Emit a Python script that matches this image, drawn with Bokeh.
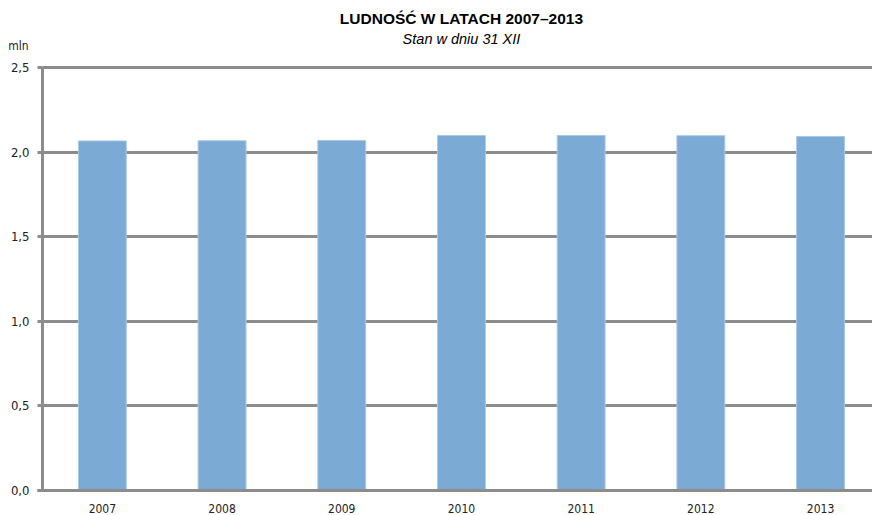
from bokeh.plotting import figure
from bokeh.models import FixedTicker, Label, Range1d
from bokeh.embed import file_html
from bokeh.resources import INLINE

years = ["2007", "2008", "2009", "2010", "2011", "2012", "2013"]
population = [2.066, 2.067, 2.069, 2.098, 2.098, 2.097, 2.092]
y_ticks = [0.0, 0.5, 1.0, 1.5, 2.0, 2.5]
y_tick_labels = ["0,0", "0,5", "1,0", "1,5", "2,0", "2,5"]
title_text = "LUDNOŚĆ W LATACH 2007–2013"
subtitle_text = "Stan w dniu 31 XII"
unit_text = "mln"

xs = list(range(len(years)))

# frame covers the whole canvas; axes are placed with fixed_location
p = figure(width=872, height=515, output_backend="svg", toolbar_location=None,
           x_range=Range1d(-0.851, 6.434), y_range=Range1d(-0.1478, 2.896),
           min_border=0)
p.outline_line_color = None
p.background_fill_color = "white"

GRID = "#8c8c8c"
BAR = "#7babd4"
CFONT = "DejaVu Sans Condensed"

p.vbar(x=xs, top=population, width=0.4, fill_color=BAR, line_color="#a9c8e6", line_width=1)

# x axis
p.xaxis.fixed_location = 0
p.xaxis.bounds = (-0.542, 6.434)
p.xaxis.ticker = FixedTicker(ticks=xs)
p.xaxis.major_label_overrides = {i: y for i, y in enumerate(years)}
p.xaxis.major_tick_line_color = None
p.xaxis.minor_tick_line_color = None
p.xaxis.axis_line_color = GRID
p.xaxis.axis_line_width = 3
p.xaxis.major_label_standoff = 8
p.xaxis.major_label_text_font = CFONT
p.xaxis.major_label_text_font_size = "12px"
p.xaxis.major_label_text_color = "#222222"

# y axis
p.yaxis.fixed_location = -0.5
p.yaxis.bounds = (0, 2.5)
p.yaxis.ticker = FixedTicker(ticks=y_ticks)
p.yaxis.major_label_overrides = {t: l for t, l in zip(y_ticks, y_tick_labels)}
p.yaxis.axis_line_color = GRID
p.yaxis.axis_line_width = 3
p.yaxis.major_tick_line_color = GRID
p.yaxis.major_tick_line_width = 3
p.yaxis.major_tick_out = 5
p.yaxis.major_tick_in = 0
p.yaxis.minor_tick_line_color = None
p.yaxis.major_label_standoff = 8
p.yaxis.major_label_text_font = CFONT
p.yaxis.major_label_text_font_size = "13px"
p.yaxis.major_label_text_color = "#222222"

p.xgrid.grid_line_color = None
p.ygrid.grid_line_color = GRID
p.ygrid.grid_line_width = 3
p.ygrid.ticker = FixedTicker(ticks=y_ticks)
p.ygrid.bounds = (0, 2.5)
p.ygrid.cross_bounds = (-0.5, 6.434)

p.add_layout(Label(x=3.0, y=2.790, text=title_text, text_align="center", text_baseline="middle",
                   text_font="Liberation Sans", text_font_style="bold", text_font_size="15.5px",
                   text_color="#000000"))
p.add_layout(Label(x=3.0, y=2.671, text=subtitle_text, text_align="center", text_baseline="middle",
                   text_font="Liberation Sans", text_font_style="italic", text_font_size="14.5px",
                   text_color="#000000"))
p.add_layout(Label(x=-0.617, y=2.630, text=unit_text, text_align="right", text_baseline="middle",
                   text_font=CFONT, text_font_size="12px", text_color="#222222"))

open("out.html", "w").write(file_html(p, INLINE))
